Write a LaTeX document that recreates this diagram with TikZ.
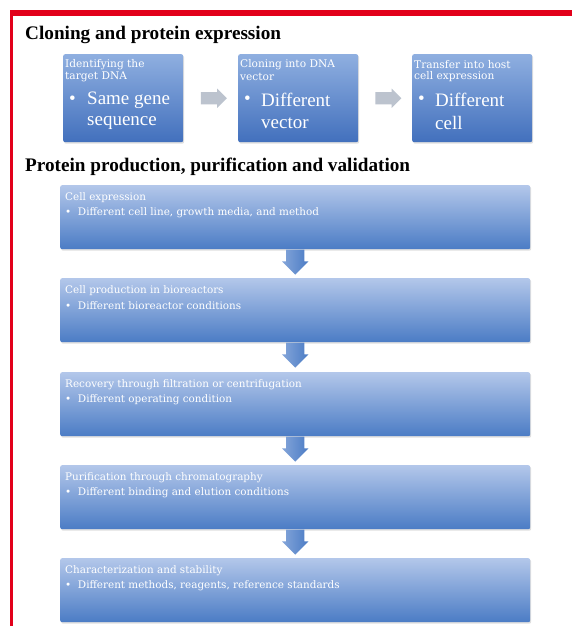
\documentclass[tikz,border=0pt]{standalone}
\usepackage{fontspec}
\setmainfont{Liberation Serif}
\newfontfamily\innerfont{DejaVu Serif}
\usetikzlibrary{shapes.arrows,shadows,calc}
\definecolor{redframe}{HTML}{E2001A}
\definecolor{boxtop}{HTML}{B3C7EA}
\definecolor{boxbot}{HTML}{4B7CC5}
\definecolor{smalltop}{HTML}{8FAFE0}
\definecolor{smallbot}{HTML}{4270BD}
\definecolor{grayarrow}{HTML}{BCC3CE}
\tikzset{
  bigbox/.style={rectangle, rounded corners=2pt, minimum width=470pt, minimum height=64pt,
    top color=boxtop, bottom color=boxbot, draw=none, inner sep=0pt, anchor=north west,
    drop shadow={opacity=0.25, shadow xshift=1pt, shadow yshift=-1.5pt}},
  smallbox/.style={rectangle, rounded corners=2pt, minimum width=120pt, minimum height=88pt,
    top color=smalltop, bottom color=smallbot, draw=none, inner sep=0pt, anchor=north west,
    drop shadow={opacity=0.25, shadow xshift=1pt, shadow yshift=-1.5pt}},
  sectitle/.style={anchor=west, inner sep=0pt, font=\fontsize{19.2}{22}\selectfont\bfseries},
  bigtext/.style={anchor=west, inner sep=0pt, text=white, font=\innerfont\fontsize{10.4}{12}\selectfont},
  smalllabel/.style={anchor=west, inner sep=0pt, text=white, font=\innerfont\fontsize{10.6}{12}\selectfont},
  smallbullet/.style={anchor=west, inner sep=0pt, text=white, font=\fontsize{19}{22}\selectfont},
  grayarr/.style={single arrow, draw=none, fill=grayarrow, minimum height=26pt,
    inner xsep=0pt, inner ysep=6pt, single arrow head extend=3.5pt},
  bluearr/.style={single arrow, draw=none, rotate=-90, left color=boxtop!55!boxbot, right color=boxbot,
    minimum height=25pt, inner xsep=0pt, inner ysep=9pt, single arrow head extend=4pt, anchor=tail}
}
\begin{document}
\begin{tikzpicture}[x=1pt,y=-1pt]
\useasboundingbox (0,0) rectangle (572,626);
\fill[white] (0,0) rectangle (572,626);
% red frame
\fill[redframe] (10,10) rectangle (572,16);
\fill[redframe] (9.5,10) rectangle (12.5,626);

% section titles
\node[sectitle] (title1) at (25,35) {Cloning and protein expression};
\node[sectitle] (title2) at (25,167) {Protein production, purification and validation};

% top boxes
\node[smallbox] (s1) at (63,54) {};
\node[smallbox] (s2) at (238,54) {};
\node[smallbox] (s3) at (412,54) {};

\node[smalllabel] (s1a) at ($(s1.north west)+(2,11)$) {Identifying the};
\node[smalllabel] (s1b) at ($(s1.north west)+(2,23)$) {target DNA};
\node[smallbullet] (s1c) at ($(s1.north west)+(6,46)$) {\textbullet};
\node[smallbullet] (s1d) at ($(s1.north west)+(24,46)$) {Same gene};
\node[smallbullet] (s1e) at ($(s1.north west)+(24,69)$) {sequence};

\node[smalllabel] (s2a) at ($(s2.north west)+(2,11)$) {Cloning into DNA};
\node[smalllabel] (s2b) at ($(s2.north west)+(2,23)$) {vector};
\node[smallbullet] (s2c) at ($(s2.north west)+(6,46)$) {\textbullet};
\node[smallbullet] (s2d) at ($(s2.north west)+(23,46)$) {Different};
\node[smallbullet] (s2e) at ($(s2.north west)+(23,69)$) {vector};

\node[smalllabel] (s3a) at ($(s3.north west)+(2,11)$) {Transfer into host};
\node[smalllabel] (s3b) at ($(s3.north west)+(2,23)$) {cell expression};
\node[smallbullet] (s3c) at ($(s3.north west)+(6,46)$) {\textbullet};
\node[smallbullet] (s3d) at ($(s3.north west)+(23,46)$) {Different};
\node[smallbullet] (s3e) at ($(s3.north west)+(23,69)$) {cell};

% gray arrows
\node[grayarr] (g1) at ($(s1.east)!0.5!(s2.west)$) {};
\node[grayarr] (g2) at ($(s2.east)!0.5!(s3.west)$) {};

% big boxes
\node[bigbox] (b1) at (60,185) {};
\node[bigbox] (b2) at (60,278) {};
\node[bigbox] (b3) at (60,372) {};
\node[bigbox] (b4) at (60,465) {};
\node[bigbox] (b5) at (60,558) {};

\node[bigtext] (b1a) at ($(b1.north west)+(5,13)$) {Cell expression};
\node[bigtext] (b1b) at ($(b1.north west)+(5,28)$) {\textbullet\ \ Different cell line, growth media, and method};
\node[bigtext] (b2a) at ($(b2.north west)+(5,13)$) {Cell production in bioreactors};
\node[bigtext] (b2b) at ($(b2.north west)+(5,28)$) {\textbullet\ \ Different bioreactor conditions};
\node[bigtext] (b3a) at ($(b3.north west)+(5,13)$) {Recovery through filtration or centrifugation};
\node[bigtext] (b3b) at ($(b3.north west)+(5,28)$) {\textbullet\ \ Different operating condition};
\node[bigtext] (b4a) at ($(b4.north west)+(5,13)$) {Purification through chromatography};
\node[bigtext] (b4b) at ($(b4.north west)+(5,28)$) {\textbullet\ \ Different binding and elution conditions};
\node[bigtext] (b5a) at ($(b5.north west)+(5,13)$) {Characterization and stability};
\node[bigtext] (b5b) at ($(b5.north west)+(5,28)$) {\textbullet\ \ Different methods, reagents, reference standards};

% blue down arrows
\node[bluearr] (d1) at (b1.south) {};
\node[bluearr] (d2) at (b2.south) {};
\node[bluearr] (d3) at (b3.south) {};
\node[bluearr] (d4) at (b4.south) {};
\end{tikzpicture}
\end{document}
